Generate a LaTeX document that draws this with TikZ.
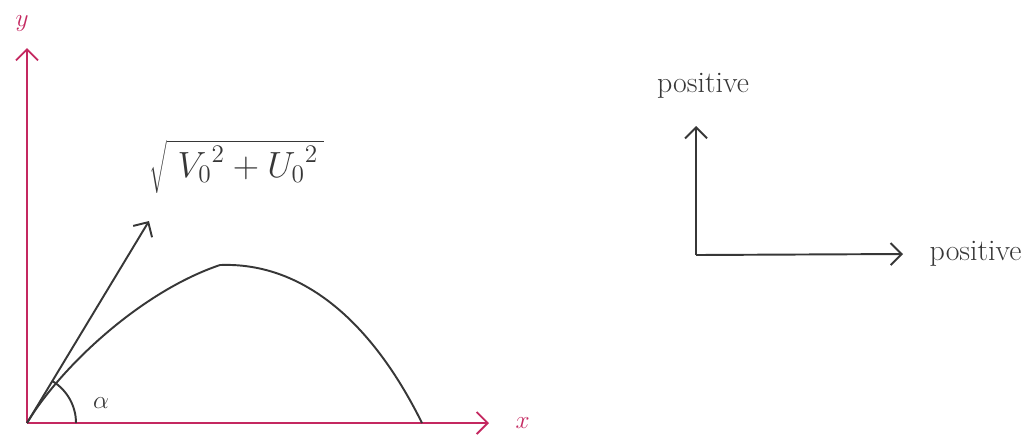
\documentclass[tikz,border=0pt]{standalone}
\usetikzlibrary{arrows.meta, positioning}
\definecolor{axispink}{RGB}{196,40,96}
\definecolor{pencil}{RGB}{55,55,55}

\begin{document}
\begin{tikzpicture}[
        x=0.02cm, y=-0.02cm, >={Straight Barb[length=2.2mm, width=4.4mm]},
        axis/.style={draw=axispink, line width=1.1pt, ->},
        stroke/.style={draw=pencil, line width=1.1pt},
        lbl/.style={text=pencil, inner sep=1pt, font=\Large}
    ]
    \useasboundingbox (0,0) rectangle (1030,441);

    % trajectory axes
    \coordinate (O) at (27,423);
    \coordinate (ytip) at (27,48);
    \coordinate (xtip) at (489,423);
    \node[lbl, text=axispink] (ylab) at (22,24) {$y$};
    \node[lbl, text=axispink, right=14pt of xtip] (xlab) {$x$};
    \draw[axis] (O) -- (ytip);
    \draw[axis] (O) -- (xtip);

    % launch velocity and path
    \coordinate (vtip) at (149,221);
    \coordinate (top) at (220,265);
    \coordinate (land) at (422,423);
    \node[lbl, font=\huge] (speed) at (237,167) {$\sqrt{\vphantom{A_|}\;{V_0}^{2}+{U_0}^{2}\,}$};
    \draw[stroke, ->] (O) -- (vtip);
    \draw[stroke] (O) .. controls (60,368) and (140,292) .. (top)
        .. controls (300,262) and (370,318) .. (land);
    \draw[stroke] (O) ++(-58.9:49) arc[start angle=-58.9, end angle=0, radius=49];
    \node[lbl] (alpha) at (101,403) {$\alpha$};

    % sign convention
    \coordinate (R) at (696,255);
    \coordinate (uptip) at (696,126);
    \coordinate (righttip) at (903,254);
    \draw[stroke, ->] (R) -- (uptip);
    \draw[stroke, ->] (R) -- (righttip);
    \node[lbl, font=\fontsize{17}{19}\selectfont] (posup) at (703,86) {positive};
    \node[lbl, font=\fontsize{17}{19}\selectfont, right=14pt of righttip] (posright) {positive};
\end{tikzpicture}
\end{document}
